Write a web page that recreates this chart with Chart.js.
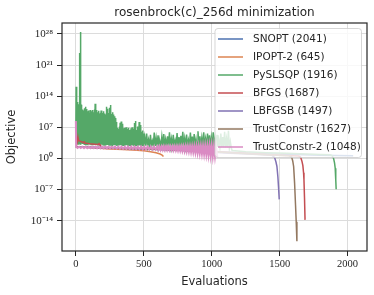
<!DOCTYPE html>
<html><head><meta charset="utf-8">
<script src="https://cdn.jsdelivr.net/npm/chart.js@4.4.1/dist/chart.umd.min.js"></script>
<style>html,body{margin:0;padding:0;background:#fff}#wrap{width:374px;height:295px}</style>
</head><body><div id="wrap"><canvas id="c" width="374" height="295"></canvas></div>
<script>
// ---------- DATA (evaluation number, log10 of objective) ----------
const chartTitle = 'rosenbrock(c)_256d minimization';
const xTickValues = [0, 500, 1000, 1500, 2000];
const yTickExponents = [-14, -7, 0, 7, 14, 21, 28];
const seriesNames = ['SNOPT (2041)', 'IPOPT-2 (645)', 'PySLSQP (1916)', 'BFGS (1687)', 'LBFGSB (1497)', 'TrustConstr (1627)', 'TrustConstr-2 (1048)'];
const seriesColors = ['#4c72b0', '#dd8452', '#55a868', '#c44e52', '#8172b3', '#937860', '#da8bc3'];

const snoptPts = [[0,2.6],[200,2.45],[400,2.3],[600,2.1],[800,1.85],[1000,1.6],[1200,1.3],[1400,1.05],[1600,0.9],[1800,0.75],[2041,0.6]];

const ipoptPts = [[0,2.6],[100,2.45],[250,2.15],[350,2.0],[450,1.85],[500,1.72],[550,1.52],[590,1.28],[620,1.0],[635,0.75],[645,0.45]];

const pyslsqpPts = [
[0,5.0],[2,16.1],[4,3.3],[6,13.0],[8,3.35],[10,12.6],[12,3.3],[14,12.7],[16,3.25],[18,11.5],
[20,3.3],[22,12.2],[24,3.3],[26,23.7],[28,3.35],[30,11.9],[32,3.3],[34,28.4],[36,3.25],[38,12.1],
[40,3.3],[42,11.3],[44,3.3],[46,10.2],[48,3.25],[50,11.0],[52,3.3],[54,9.5],[56,3.3],[58,10.8],
[60,3.25],[62,11.3],[64,3.2],[66,10.1],[68,3.2],[70,11.6],[72,3.15],[74,10.4],[76,3.2],[78,9.8],
[80,3.2],[82,11.1],[84,3.15],[86,10.6],[88,3.2],[90,9.9],[92,3.2],[94,10.8],[96,3.15],[98,10.2],
[100,3.2],[102,9.6],[104,3.15],[106,10.9],[108,3.2],[110,10.3],[112,3.15],[114,9.7],[116,3.2],[118,10.6],
[120,3.15],[122,10.0],[124,3.2],[126,10.9],[128,3.15],[130,9.8],[132,3.15],[134,10.4],[136,3.2],[138,11.0],
[140,3.15],[142,12.3],[144,3.15],[146,11.8],[148,3.2],[150,10.5],[152,3.15],[154,10.9],[156,3.15],[158,9.9],
[160,3.1],[162,10.4],[164,3.15],[166,9.6],[168,3.1],[170,10.7],[172,3.15],[174,10.1],[176,3.1],[178,9.5],
[180,3.1],[182,10.3],[184,3.15],[186,10.8],[188,3.1],[190,9.8],[192,3.1],[194,10.2],[196,3.15],[198,9.4],
[200,3.1],[202,10.0],[204,3.1],[206,10.6],[208,3.05],[210,9.7],[212,3.1],[214,10.1],[216,3.05],[218,9.3],
[220,3.1],[222,9.9],[224,3.05],[226,11.6],[228,3.1],[230,11.2],[232,3.05],[234,10.0],[236,3.05],[238,9.6],
[240,3.1],[242,10.2],[244,3.05],[246,9.3],[248,3.05],[250,11.4],[252,3.1],[254,12.0],[256,3.05],[258,11.1],
[260,3.05],[262,10.0],[264,3.0],[266,9.8],[268,3.05],[270,10.4],[272,3.0],[274,9.2],[276,3.05],[278,9.9],
[280,3.0],[282,8.8],[284,3.05],[286,9.5],[288,3.0],[290,8.6],[292,3.0],[294,9.1],[296,3.05],[298,8.2],
[300,3.0],[302,7.0],[304,3.0],[306,6.4],[308,3.05],[310,6.9],[312,3.0],[314,6.1],[316,3.0],[318,6.6],
[320,3.05],[322,7.2],[324,3.0],[326,8.0],[328,3.0],[330,7.4],[332,3.0],[334,8.3],[336,3.05],[338,7.6],
[340,3.0],[342,7.0],[344,3.0],[346,7.8],[348,2.95],[350,6.8],[352,3.0],[354,6.3],[356,2.95],[358,6.9],
[360,3.0],[362,5.9],[364,2.95],[366,6.5],[368,3.0],[370,7.0],[372,2.95],[374,6.2],[376,2.95],[378,5.8],
[380,3.0],[382,6.6],[384,2.95],[386,6.1],[388,2.95],[390,6.9],[392,3.0],[394,5.7],[396,2.95],[398,6.4],
[400,2.95],[402,6.0],[404,3.0],[406,6.8],[408,2.95],[410,6.3],[412,2.95],[414,7.0],[416,2.9],[418,6.5],
[420,2.95],[422,5.9],[424,2.95],[426,6.7],[428,2.9],[430,8.0],[432,2.95],[434,6.2],[436,2.9],[438,8.4],
[440,2.95],[442,6.6],[444,2.9],[446,5.8],[448,2.95],[450,6.4],[452,2.9],[454,7.2],[456,2.9],[458,5.9],
[460,2.95],[462,6.8],[464,2.9],[466,8.2],[468,2.9],[470,6.1],[472,2.95],[474,5.6],[476,2.9],[478,7.5],
[480,2.9],[482,6.0],[484,2.9],[486,5.4],[488,2.9],[490,6.3],[492,2.9],[494,5.2],[496,2.9],[498,5.6],
[500,2.9],[507,4.8],[514,2.85],[521,5.6],[528,2.85],[535,4.2],[542,2.85],[549,5.3],[556,2.8],[563,3.9],[570,2.85],
[577,5.8],[584,2.8],[591,4.6],[598,2.85],[605,5.2],[612,2.8],[619,3.8],[626,2.8],[633,4.9],[640,2.85],
[647,5.5],[654,2.8],[661,4.3],[668,2.8],[675,5.0],[682,2.8],[689,5.9],[696,2.8],[703,4.4],[710,2.8],
[717,5.3],[724,2.8],[731,4.0],[738,2.75],[745,5.7],[752,2.8],[759,4.8],[766,2.75],[773,5.1],[780,2.8],
[787,6.0],[794,2.75],[801,4.5],[808,2.75],[815,5.4],[822,2.75],[829,4.1],[836,2.75],[843,5.8],[850,2.75],
[857,4.9],[864,2.75],[871,5.5],[878,2.7],[885,4.3],[892,2.75],[899,6.1],[906,2.7],[913,5.0],[920,2.7],
[927,4.6],[934,2.7],[941,5.9],[948,2.7],[955,4.4],[962,2.7],[969,5.6],[976,2.7],[983,5.2],[990,2.7],
[997,4.7],[1004,2.65],[1011,5.9],[1018,2.65],[1025,4.5],[1032,2.6],[1039,5.3],[1046,2.6],[1053,4.0],[1060,2.6],
[1067,5.6],[1074,2.55],[1081,4.8],[1088,2.55],[1095,6.0],[1102,2.5],[1109,4.4],[1116,2.5],[1123,6.2],[1130,2.45],
[1137,3.8],[1144,2.4],[1150,1.8],[1250,1.5],[1400,1.3],[1550,1.15],[1700,1.0],[1800,0.9],[1870,0.85],[1885,0.7],
[1897,0.0],[1904,-1.0],[1909,-2.2],[1912,-3.3],[1914,-4.8],[1916,-6.9]];

const bfgsPts = [[0,7.0],[2,5.8],[5,5.0],[9,4.6],[14,4.3],[16,4.6],[18,4.2],[30,3.9],[45,3.7],[60,3.55],[62,3.9],[64,3.5],
[80,3.4],[100,3.3],[120,3.25],[140,3.2],[160,3.15],[168,3.15],[170,3.5],[172,3.1],[180,3.05],[188,2.5],[300,2.4],
[500,2.2],[700,2.0],[900,1.8],[1100,1.4],[1300,1.05],[1500,0.75],[1640,0.55],[1654,0.3],[1664,-0.6],[1671,-1.6],
[1676,-3.2],[1679,-4.8],[1683,-8.8],[1687,-13.8]];

const lbfgsbPts = [[0,2.55],[300,2.3],[600,2.0],[900,1.6],[1100,1.25],[1300,0.95],[1445,0.7],[1463,0.2],[1473,-0.8],
[1480,-1.8],[1487,-4.1],[1492,-6.5],[1497,-9.2]];

const trustConstrPts = [[0,2.6],[300,2.3],[600,2.05],[900,1.7],[1200,1.2],[1400,0.85],[1570,0.6],[1588,0.3],[1596,-0.5],
[1603,-1.8],[1610,-5.5],[1617,-10.5],[1622,-14.2],[1627,-18.6]];

const trustConstr2Pts = [
[0,8.4],[2,2.65],[12,2.35],[24,2.65],[36,2.34],[48,2.64],[60,2.33],[72,2.66],[84,2.32],[96,2.65],
[108,2.31],[120,2.64],[132,2.3],[144,2.66],[156,2.29],[168,2.65],[180,2.28],[192,2.64],[204,2.27],[216,2.66],
[228,2.26],[240,2.65],[252,2.25],[264,2.65],[276,2.24],[288,2.66],[300,2.22],[312,2.65],[324,2.2],[336,2.66],
[348,2.18],[360,2.65],[372,2.16],[384,2.67],[396,2.14],[408,2.66],[420,2.12],[432,2.68],[444,2.1],[456,2.67],
[468,2.08],[480,2.68],[492,2.06],[504,2.68],[516,2.04],[528,2.69],[540,2.02],[552,2.68],[564,2.0],[576,2.7],
[588,1.98],[600,2.7],[608,1.97],[616,2.71],[624,1.96],[632,2.7],[640,1.95],[648,2.72],[656,1.94],[664,2.71],
[672,1.93],[680,2.73],[688,1.92],[696,2.72],[704,1.9],[712,2.74],[720,1.87],[728,2.73],[736,1.84],[744,2.75],
[752,1.8],[760,2.74],[768,1.76],[776,2.76],[784,1.71],[792,2.75],[800,1.65],[808,2.78],[816,1.6],[824,2.77],
[832,1.53],[840,2.79],[848,1.47],[856,2.78],[864,1.4],[872,2.8],[880,1.33],[888,2.82],[896,1.24],[904,2.81],
[912,1.16],[920,2.84],[928,1.08],[936,2.83],[944,0.98],[952,2.86],[960,0.9],[968,2.85],[976,0.8],[984,2.88],
[992,0.68],[1000,2.9],[1008,0.55],[1016,2.8],[1024,0.5],[1032,2.6],[1040,0.45],[1048,0.4]];

const seriesPoints = [snoptPts, ipoptPts, pyslsqpPts, bfgsPts, lbfgsbPts, trustConstrPts, trustConstr2Pts];
const seriesWidths = [1.5, 1.5, 1.5, 1.5, 1.5, 1.5, 2];

// ---------- CHART ----------
const TXT = '#262626';
const SUP = {'-':'\u207B','0':'\u2070','1':'\u00B9','2':'\u00B2','3':'\u00B3','4':'\u2074','5':'\u2075','6':'\u2076','7':'\u2077','8':'\u2078','9':'\u2079'};
const supStr = n => String(n).split('').map(ch => SUP[ch]).join('');

const datasets = seriesPoints.map((pts, i) => ({
  label: seriesNames[i],
  data: pts.map(([e, p]) => ({ x: e, y: Math.pow(10, p) })),
  borderColor: seriesColors[i],
  backgroundColor: seriesColors[i],
  borderWidth: seriesWidths[i],
  pointRadius: 0,
  fill: false,
  tension: 0,
  order: seriesPoints.length - 1 - i
}));

const framePlugin = {
  id: 'frame',
  afterDatasetsDraw(chart) {
    const { ctx, chartArea: a } = chart;
    ctx.save();
    ctx.strokeStyle = TXT;
    ctx.lineWidth = 1.2;
    ctx.strokeRect(a.left, a.top, a.right - a.left, a.bottom - a.top);
    ctx.restore();
  }
};

const legendPlugin = {
  id: 'insideLegend',
  afterDraw(chart) {
    const { ctx, chartArea: a } = chart;
    const w = 146.5, h = 129, r = 3;
    const x0 = a.right - 5.5 - w, y0 = a.top + 5.5;
    ctx.save();
    ctx.beginPath();
    ctx.moveTo(x0 + r, y0);
    ctx.lineTo(x0 + w - r, y0); ctx.quadraticCurveTo(x0 + w, y0, x0 + w, y0 + r);
    ctx.lineTo(x0 + w, y0 + h - r); ctx.quadraticCurveTo(x0 + w, y0 + h, x0 + w - r, y0 + h);
    ctx.lineTo(x0 + r, y0 + h); ctx.quadraticCurveTo(x0, y0 + h, x0, y0 + h - r);
    ctx.lineTo(x0, y0 + r); ctx.quadraticCurveTo(x0, y0, x0 + r, y0);
    ctx.closePath();
    ctx.fillStyle = 'rgba(255,255,255,0.8)';
    ctx.fill();
    ctx.strokeStyle = 'rgba(204,204,204,0.8)';
    ctx.lineWidth = 1;
    ctx.stroke();
    ctx.font = "10.5px 'DejaVu Sans', sans-serif";
    ctx.textBaseline = 'middle';
    ctx.textAlign = 'left';
    chart.data.datasets.forEach((ds, i) => {
      const y = y0 + 10.5 + i * 18;
      ctx.strokeStyle = ds.borderColor;
      ctx.lineWidth = 1.5;
      ctx.beginPath(); ctx.moveTo(x0 + 3, y); ctx.lineTo(x0 + 28, y); ctx.stroke();
      ctx.fillStyle = TXT;
      ctx.fillText(ds.label, x0 + 38, y + 0.5);
    });
    ctx.restore();
  }
};

new Chart(document.getElementById('c'), {
  type: 'line',
  data: { datasets },
  options: {
    responsive: false,
    animation: false,
    devicePixelRatio: 1,
    parsing: false,
    layout: { padding: { left: 0, right: 7, top: 0, bottom: 0 } },
    plugins: {
      legend: { display: false },
      tooltip: { enabled: false },
      title: {
        display: true, text: chartTitle, color: TXT, fullSize: false,
        font: { family: "'DejaVu Sans', sans-serif", size: 12, weight: 'normal', lineHeight: 1.2 },
        padding: { top: 6, bottom: 2.6 }
      }
    },
    scales: {
      x: {
        type: 'linear', min: -102, max: 2143,
        afterBuildTicks: s => { s.ticks = xTickValues.map(v => ({ value: v })); },
        afterFit: s => { s.height = 44; },
        border: { display: false },
        grid: { color: '#dcdcdc', lineWidth: 1, drawTicks: true, tickLength: 5, tickColor: TXT, tickWidth: 1 },
        ticks: { color: TXT, font: { family: "'Liberation Serif', serif", size: 10.5 }, padding: 2, maxRotation: 0, autoSkip: false, callback: v => String(v) },
        title: { display: true, text: 'Evaluations', color: TXT, font: { family: "'DejaVu Sans', sans-serif", size: 11.5, lineHeight: 1.2 }, padding: { top: 0, bottom: 6 } }
      },
      y: {
        type: 'logarithmic', min: Math.pow(10, -20.8), max: Math.pow(10, 30.45),
        afterBuildTicks: s => { s.ticks = yTickExponents.map(p => ({ value: Math.pow(10, p) })); },
        afterFit: s => { s.width = 62; },
        border: { display: false },
        grid: { color: '#dcdcdc', lineWidth: 1, drawTicks: true, tickLength: 5, tickColor: TXT, tickWidth: 1 },
        ticks: { color: TXT, font: { family: "'Liberation Serif', serif", size: 11 }, padding: 4, autoSkip: false,
          callback: v => '10' + supStr(Math.round(Math.log10(v))) },
        title: { display: true, text: 'Objective', color: TXT, font: { family: "'DejaVu Sans', sans-serif", size: 11.5, lineHeight: 1.2 }, padding: { top: 5, bottom: 0 } }
      }
    }
  },
  plugins: [framePlugin, legendPlugin]
});
</script>
</body></html>
